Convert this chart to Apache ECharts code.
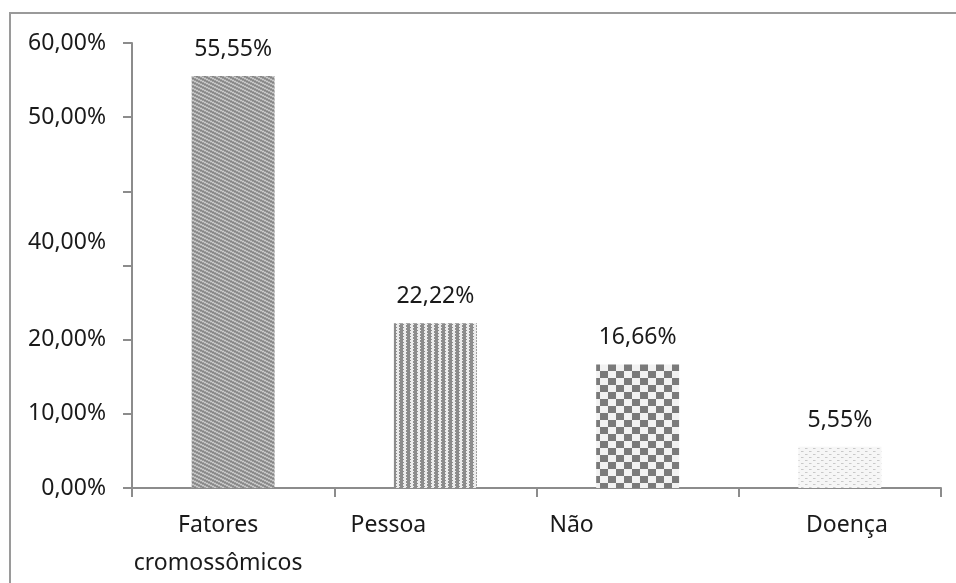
<!DOCTYPE html>
<html>
<head>
<meta charset="utf-8">
<script src="https://cdn.jsdelivr.net/npm/echarts@6/dist/echarts.min.js"></script>
<style>
html,body{margin:0;padding:0;background:#fff;}
#chart{width:956px;height:583px;}
</style>
</head>
<body>
<div id="chart"></div>
<script>
// ---- data ----
const categories = ['Fatores\ncromossômicos', 'Pessoa', 'Não', 'Doença'];
const values = [55.55, 22.22, 16.66, 5.55];
const valueLabels = ['55,55%', '22,22%', '16,66%', '5,55%'];
const yTickValues = [0, 10, 20, 30, 40, 50, 60];
const yTickLabels = ['0,00%', '10,00%', '20,00%', '', '40,00%', '50,00%', '60,00%'];

// ---- styling (not data) ----
const xLabelShift = [-15, -47, -66, 7];   // horizontal offset of each category label
const yLabelDrop = {40: 51};              // vertical offset of a y label

function makePattern(w, h, draw) {
  const c = document.createElement('canvas');
  c.width = w; c.height = h;
  const ctx = c.getContext('2d');
  draw(ctx, w, h);
  return c;
}
const patterns = [
  makePattern(8, 4, (ctx, w, h) => {
    ctx.fillStyle = '#a0a0a0'; ctx.fillRect(0, 0, w, h);
    ctx.fillStyle = '#cbcbcb';
    for (let x = 0; x < w; x++) { const y = Math.floor(x / 2) % 4; ctx.fillRect(x, y, 1, 1); }
    ctx.fillStyle = '#848484';
    for (let x = 0; x < w; x++) { const y = (Math.floor(x / 2) + 2) % 4; ctx.fillRect(x, y, 1, 1); }
  }),
  makePattern(7, 6, (ctx, w, h) => {
    ctx.fillStyle = '#ececec'; ctx.fillRect(0, 0, w, h);
    ctx.fillStyle = '#8c8c8c';
    for (let y = 0; y < h; y++) { const o = (y % 3 === 0) ? 1 : 0; ctx.fillRect(o, y, 4, 1); }
  }),
  makePattern(16, 14, (ctx, w, h) => {
    ctx.fillStyle = '#f2f2f2'; ctx.fillRect(0, 0, w, h);
    ctx.fillStyle = '#7a7a7a';
    ctx.fillRect(0, 0, 8, 7); ctx.fillRect(8, 7, 8, 7);
  }),
  makePattern(8, 6, (ctx, w, h) => {
    ctx.fillStyle = '#f6f6f6'; ctx.fillRect(0, 0, w, h);
    ctx.fillStyle = '#c9c9c9';
    ctx.fillRect(1, 1, 2, 1); ctx.fillRect(5, 4, 2, 1);
    ctx.fillStyle = '#dedede';
    ctx.fillRect(3, 1, 1, 1); ctx.fillRect(7, 4, 1, 1);
  })
];

const FONT = 'Noto Sans';
const FS = 23;
const rich = {};
xLabelShift.forEach((s, i) => {
  rich['x' + i] = {
    fontFamily: FONT, fontSize: FS, color: '#1a1a1a', lineHeight: 38,
    padding: s < 0 ? [0, -2 * s, 0, 0] : [0, 0, 0, 2 * s]
  };
});
const yRich = { n: { fontFamily: FONT, fontSize: FS, color: '#1a1a1a' } };
Object.keys(yLabelDrop).forEach(k => {
  yRich['d' + k] = { fontFamily: FONT, fontSize: FS, color: '#1a1a1a', padding: [2 * yLabelDrop[k], 0, 0, 0] };
});

const chart = echarts.init(document.getElementById('chart'), null, { renderer: 'canvas' });
chart.setOption({
  animation: false,
  backgroundColor: '#ffffff',
  grid: { left: 132, right: 15, top: 43, bottom: 95 },
  graphic: [{
    type: 'rect', shape: { x: 10, y: 13, width: 1000, height: 1000 },
    style: { fill: 'none', stroke: '#9a9a9a', lineWidth: 2 }, silent: true
  }],
  xAxis: {
    type: 'category',
    data: categories,
    axisLine: { lineStyle: { color: '#8c8c8c', width: 2 } },
    axisTick: { show: true, length: 9, lineStyle: { color: '#8c8c8c', width: 2 } },
    axisLabel: {
      margin: 18,
      interval: 0,
      formatter: (v, i) => v.split('\n').map(line => '{x' + i + '|' + line + '}').join('\n'),
      rich: rich
    }
  },
  yAxis: {
    type: 'value',
    min: 0, max: 60, interval: 10,
    splitLine: { show: false },
    axisLine: { show: true, lineStyle: { color: '#8c8c8c', width: 2 } },
    axisTick: { show: true, length: 9, lineStyle: { color: '#8c8c8c', width: 2 } },
    axisLabel: {
      margin: 26,
      formatter: (v) => {
        const idx = yTickValues.indexOf(v);
        const t = idx >= 0 ? yTickLabels[idx] : '';
        if (!t) return '';
        return yLabelDrop[v] ? '{d' + v + '|' + t + '}' : '{n|' + t + '}';
      },
      rich: yRich
    }
  },
  series: [{
    type: 'bar',
    barWidth: '41%',
    data: values.map((v, i) => ({
      value: v,
      itemStyle: { color: { image: patterns[i], repeat: 'repeat' } }
    })),
    label: {
      show: true, position: 'top', distance: 15,
      fontFamily: FONT, fontSize: FS, color: '#1a1a1a',
      formatter: (p) => valueLabels[p.dataIndex]
    }
  }]
});
</script>
</body>
</html>
